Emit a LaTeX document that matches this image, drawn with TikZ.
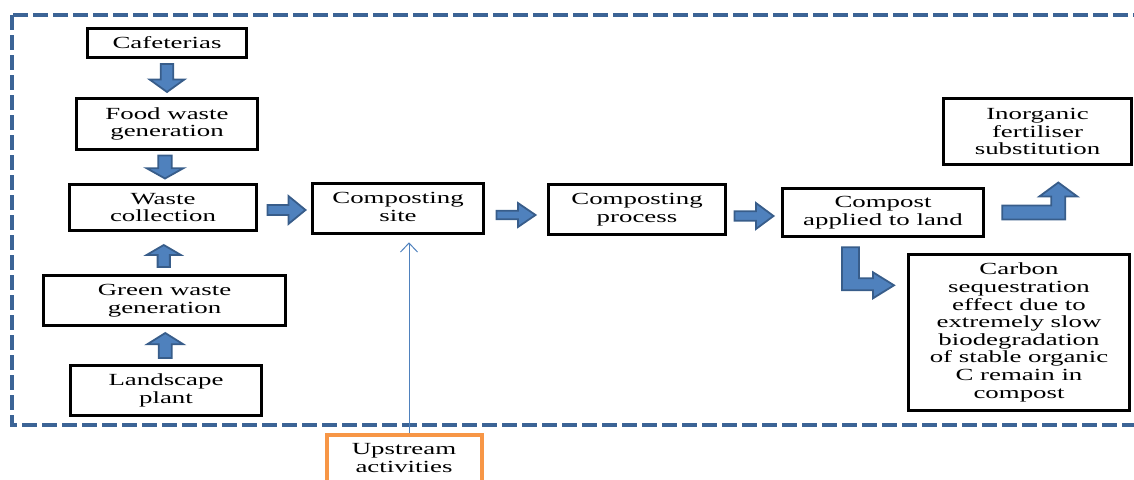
\documentclass[tikz,border=0pt]{standalone}
\usepackage{fontspec}
\setmainfont{Liberation Serif}[FakeStretch=1.58]
\usetikzlibrary{calc,arrows.meta}

\definecolor{arrowblue}{HTML}{4F81BD}
\definecolor{arrowedge}{HTML}{385D8A}
\definecolor{framecol}{HTML}{3C6496}
\definecolor{upcol}{HTML}{F79646}

% fat block arrow: centre, direction, length, head width
\newcommand{\fatarrow}[4]{%
  \filldraw[blockarrow, shift={#1}, rotate=#2]
    (-#3/2,-0.18*#4) -- (0.05*#3,-0.18*#4) -- (0.05*#3,-#4/2) -- (#3/2,0)
    -- (0.05*#3,#4/2) -- (0.05*#3,0.18*#4) -- (-#3/2,0.18*#4) -- cycle;}

\begin{document}
\begin{tikzpicture}[x=1pt,y=-1pt,
  box/.style={draw=black, line width=3.6pt, align=center, inner sep=0pt,
    font=\fontsize{17}{17.6}\selectfont},
  upbox/.style={box, draw=upcol, line width=4pt},
  blockarrow/.style={fill=arrowblue, draw=arrowedge, line width=1.8pt, line join=miter},
  thinarrow/.style={draw=arrowblue, line width=1pt, -{Straight Barb[length=9pt,width=17pt]}},
  frame/.style={draw=framecol, line width=3.5pt, dash pattern=on 15pt off 5pt}]
\useasboundingbox (0,0) rectangle (1134,479);
\draw[frame] (12,15) rectangle (1160,425);

\node[box, minimum width=159, minimum height=29] (caf) at (167,43) {Cafeterias};
\node[box, minimum width=181, minimum height=51] (food) at (167,124) {Food waste\\generation};
\node[box, minimum width=187, minimum height=46] (waste) at (163,207.5) {Waste\\collection};
\node[box, minimum width=242, minimum height=50] (green) at (164.5,300.5) {Green waste\\generation};
\node[box, minimum width=191, minimum height=50] (land) at (166,390.5) {Landscape\\plant};
\node[box, minimum width=171, minimum height=50] (site) at (398,208.5) {Composting\\site\vphantom{p}};
\node[box, minimum width=177, minimum height=50] (process) at (637,209.5) {Composting\\process};
\node[box, minimum width=201, minimum height=48] (compost) at (883,212.5) {Compost\\applied to land};
\node[box, minimum width=188, minimum height=66] (inorg) at (1037.5,131.5) {Inorganic\\fertiliser\\substitution};
\node[box, minimum width=221, minimum height=156] (carbon) at (1019,332.5) {Carbon\\sequestration\\effect due to\\extremely slow\\biodegradation\\of stable organic\\C remain in\\compost};
\node[upbox, minimum width=155, minimum height=47] (up) at (404,458) {Upstream\\activities};

\fatarrow{($(caf.south)!0.5!(food.north)$)}{-90}{28}{35}
\fatarrow{($(food.south)!0.5!(waste.north)$)}{-90}{23}{37}
\fatarrow{($(green.north)!0.5!(waste.south)+(0,3)$)}{90}{22}{34}
\fatarrow{($(land.north)!0.5!(green.south)$)}{90}{25}{36}
\fatarrow{($(waste.east)!0.5!(site.west)+(2,2)$)}{0}{38}{28}
\fatarrow{($(site.east)!0.5!(process.west)+(0,6)$)}{0}{39}{24}
\fatarrow{($(process.east)!0.5!(compost.west)+(0,5)$)}{0}{39}{26}

\filldraw[blockarrow, shift={(compost.east)}]
  (17,-7) -- (66,-7) -- (66,-16) -- (54,-16) -- (73,-30) -- (92,-16)
  -- (80,-16) -- (80,7) -- (17,7) -- cycle;
\filldraw[blockarrow, shift={(compost.south)}]
  (-41,9) -- (-24,9) -- (-24,40) -- (-10,40) -- (-10,34) -- (11,47)
  -- (-10,60) -- (-10,52) -- (-41,52) -- cycle;

\draw[thinarrow, shorten >=7pt] ([xshift=5]up.north) -- ([xshift=5]up.north |- site.south);
\end{tikzpicture}
\end{document}
